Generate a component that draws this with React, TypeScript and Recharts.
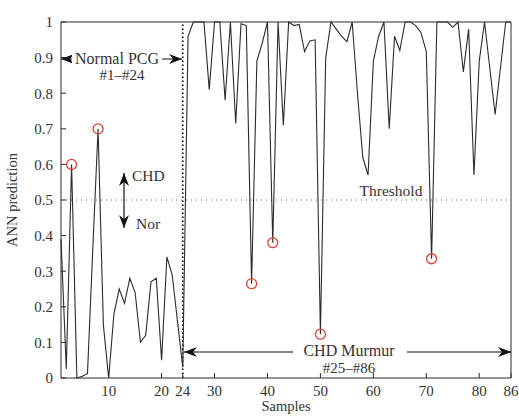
import React from 'react';
import {
  ComposedChart,
  Line,
  Scatter,
  XAxis,
  YAxis,
  ReferenceLine,
} from 'recharts';

// ANN output per sample
const normalPcg = [
  0.39, 0.025, 0.6, 0.0, 0.005, 0.012, 0.36, 0.7, 0.15, 0.0, 0.18, 0.25,
  0.21, 0.28, 0.24, 0.1, 0.12, 0.27, 0.28, 0.05, 0.34, 0.29, 0.16, 0.03,
];
const chdMurmur = [
  0.96, 1.0, 1.0, 1.0, 0.81, 1.0, 1.0, 0.78, 1.0, 0.715, 0.995, 0.99, 0.265,
  0.89, 0.94, 1.0, 0.38, 1.0, 0.71, 1.0, 0.99, 0.993, 0.917, 0.947, 0.95,
  0.123, 0.9, 1.0, 0.98, 0.96, 0.945, 1.0, 0.8, 0.62, 0.57, 0.89, 0.96, 1.0,
  0.7, 0.96, 0.92, 1.0, 1.0, 0.99, 0.97, 0.917, 0.335, 1.0, 1.0, 1.0, 0.985,
  1.0, 0.86, 0.98, 0.57, 0.89, 1.0, 0.87, 0.74, 0.87, 1.0, 1.0,
];
const misclassified = [3, 8, 37, 41, 50, 71];
const xTicks = [10, 20, 24, 30, 40, 50, 60, 70, 80, 86];
const yTicks = [0, 0.1, 0.2, 0.3, 0.4, 0.5, 0.6, 0.7, 0.8, 0.9, 1];
const threshold = 0.5;
const splitSample = 24;

const predictions = [...normalPcg, ...chdMurmur].map((y, i) => ({ x: i + 1, y }));
const wrongOnes = predictions.filter((p) => misclassified.includes(p.x));

const INK = '#2b2b2b';
const TEXT = '#333';
const FONT = '"Liberation Serif", "DejaVu Serif", serif';

const Ring = (props: any) => (
  <circle cx={props.cx} cy={props.cy} r={5} fill="none" stroke="#d8463c" strokeWidth={1.3} />
);

// arrowhead polygon pointing from (x0,y0) towards tip (x,y)
const head = (x: number, y: number, x0: number, y0: number) => {
  const d = Math.hypot(x - x0, y - y0);
  const ux = (x - x0) / d;
  const uy = (y - y0) / d;
  const L = 13, W = 5, N = 4;
  const bx = x - ux * L, by = y - uy * L;
  const pts = [
    [x, y],
    [bx - uy * W, by + ux * W],
    [x - ux * (L - N), y - uy * (L - N)],
    [bx + uy * W, by - ux * W],
  ];
  return <polygon points={pts.map((p) => p.join(',')).join(' ')} fill="#111" />;
};

const Arrow = ({ x1, y1, x2, y2 }: { x1: number; y1: number; x2: number; y2: number }) => (
  <g>
    <line x1={x1} y1={y1} x2={x2} y2={y2} stroke="#111" strokeWidth={1.2} />
    {head(x1, y1, x2, y2)}
    {head(x2, y2, x1, y1)}
  </g>
);

const yFmt = (v: number) => (v === 0 ? '0' : v === 1 ? '1' : v.toFixed(1));

export default function App() {
  return (
    <div style={{ position: 'absolute', left: 0, top: 0, width: 519, height: 419, background: '#fff', fontFamily: FONT }}>
      <ComposedChart
        width={519}
        height={419}
        data={predictions}
        margin={{ top: 21, right: 7, bottom: 0, left: 0 }}
      >
        <XAxis
          type="number"
          dataKey="x"
          domain={[1, 86]}
          ticks={xTicks}
          interval={0}
          height={41}
          tickSize={-5}
          tickMargin={12}
          stroke={INK}
          tick={{ fontSize: 15, fill: TEXT, fontFamily: FONT }}
        />
        <XAxis
          xAxisId="top"
          orientation="top"
          type="number"
          dataKey="x"
          domain={[1, 86]}
          ticks={xTicks}
          interval={0}
          height={1}
          tickSize={-5}
          tick={false}
          stroke={INK}
        />
        <YAxis
          type="number"
          domain={[0, 1]}
          ticks={yTicks}
          interval={0}
          width={61}
          tickSize={-5}
          tickMargin={13}
          tickFormatter={yFmt}
          stroke={INK}
          tick={{ fontSize: 15, fill: TEXT, fontFamily: FONT }}
        />
        <YAxis
          yAxisId="right"
          orientation="right"
          type="number"
          domain={[0, 1]}
          ticks={yTicks}
          interval={0}
          width={1}
          tickSize={-5}
          tick={false}
          stroke={INK}
        />
        <ReferenceLine y={threshold} stroke="#666" strokeDasharray="1 4" strokeWidth={1} />
        <ReferenceLine x={splitSample} stroke="#111" strokeDasharray="1.5 2.5" strokeWidth={1.6} />
        <Line
          type="linear"
          dataKey="y"
          stroke={INK}
          strokeWidth={1.1}
          dot={false}
          isAnimationActive={false}
        />
        <Scatter data={wrongOnes} dataKey="y" shape={Ring} isAnimationActive={false} />
      </ComposedChart>

      <svg
        width={519}
        height={419}
        style={{ position: 'absolute', left: 0, top: 0, pointerEvents: 'none' }}
        fontFamily={FONT}
      >
        <Arrow x1={61} y1={59} x2={182} y2={59} />
        <rect x={72} y={48} width={90} height={20} fill="#fff" />
        <text x={117} y={64} textAnchor="middle" fontSize={16} fill={TEXT}>Normal PCG</text>
        <text x={122} y={80} textAnchor="middle" fontSize={15} fill={TEXT}>#1–#24</text>

        <Arrow x1={124} y1={173} x2={124} y2={228} />
        <text x={132} y={181} fontSize={15.5} fill={TEXT}>CHD</text>
        <text x={136} y={229} fontSize={15.5} fill={TEXT}>Nor</text>

        <text x={391} y={196} textAnchor="middle" fontSize={15.5} fill={TEXT}>Threshold</text>

        <Arrow x1={184} y1={352} x2={511} y2={352} />
        <rect x={293} y={340} width={114} height={20} fill="#fff" />
        <text x={349} y={356} textAnchor="middle" fontSize={16} fill={TEXT}>CHD Murmur</text>
        <text x={349} y={373} textAnchor="middle" fontSize={15} fill={TEXT}>#25–#86</text>

        <text x={286} y={411} textAnchor="middle" fontSize={14.5} fill={TEXT}>Samples</text>
        <text
          x={17}
          y={200}
          textAnchor="middle"
          fontSize={14.5}
          fill={TEXT}
          transform="rotate(-90 17 200)"
        >
          ANN prediction
        </text>
      </svg>
    </div>
  );
}
